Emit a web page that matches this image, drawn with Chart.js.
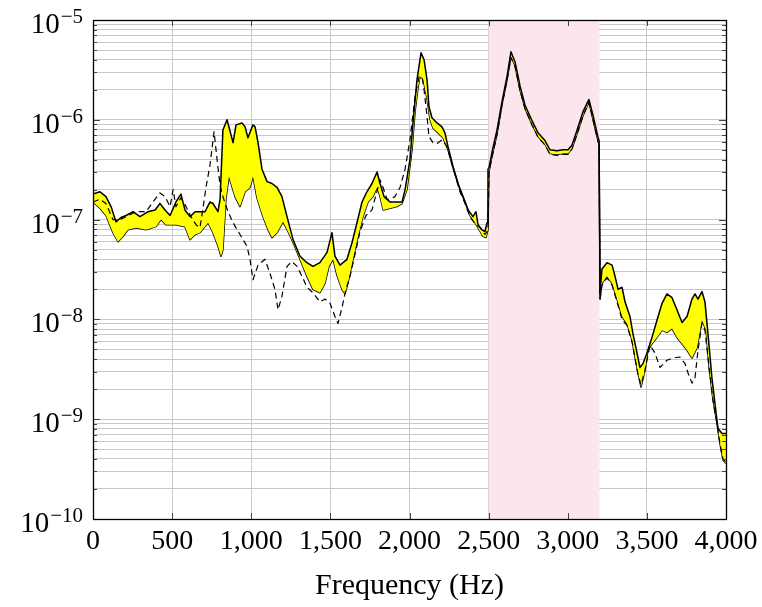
<!DOCTYPE html>
<html>
<head>
<meta charset="utf-8">
<script src="https://cdn.jsdelivr.net/npm/chart.js@4.4.0/dist/chart.umd.min.js"></script>
<style>
  html, body { margin: 0; padding: 0; background: #fff; }
  #wrap { width: 762px; height: 607px; }
</style>
</head>
<body>
<div id="wrap"><canvas id="chart" width="762" height="607"></canvas></div>
<script>
// upper edge of the yellow band
const upperFreq = [0, 44, 82, 114, 145, 177, 209, 253, 297, 348, 392, 423, 455, 487, 524, 556, 581, 613, 645, 676,
  708, 739, 758, 790, 803, 821, 847, 885, 904, 942, 961, 979, 1011, 1024, 1043, 1068, 1100, 1131, 1163, 1194,
  1226, 1264, 1308, 1352, 1390, 1434, 1479, 1510, 1529, 1561, 1605, 1637, 1668, 1700, 1731, 1763, 1795, 1814, 1839, 1877,
  1921, 1953, 1972, 2003, 2022, 2047, 2073, 2092, 2111, 2123, 2142, 2174, 2205, 2224, 2243, 2275, 2306, 2338, 2370, 2401,
  2420, 2433, 2458, 2477, 2490, 2496, 2502, 2521, 2553, 2584, 2616, 2641, 2667, 2698, 2730, 2774, 2812, 2856, 2888, 2932,
  2970, 3002, 3027, 3058, 3096, 3134, 3160, 3192, 3198, 3204, 3216, 3248, 3280, 3299, 3318, 3343, 3362, 3393, 3412, 3438,
  3456, 3475, 3501, 3532, 3564, 3596, 3627, 3659, 3690, 3722, 3754, 3785, 3804, 3823, 3848, 3867, 3886, 3911, 3930, 3949,
  3975, 4000];
const upperVal = [1.8e-7, 1.9e-7, 1.7e-7, 1.35e-7, 9.5e-8, 1.05e-7, 1.1e-7, 1.2e-7, 1.07e-7, 1.2e-7, 1.25e-7, 1.45e-7, 1.25e-7, 1.1e-7, 1.5e-7, 1.8e-7, 1.25e-7, 1.07e-7, 1.2e-7, 1.2e-7,
  1.2e-7, 1.5e-7, 1.45e-7, 1.2e-7, 1.6e-7, 7.9e-7, 1.0e-6, 5.9e-7, 8.9e-7, 9.3e-7, 8.5e-7, 6.6e-7, 8.9e-7, 8.5e-7, 5.9e-7, 3.2e-7, 2.4e-7, 2.3e-7, 2.1e-7, 1.7e-7,
  1.07e-7, 6.3e-8, 4.3e-8, 3.7e-8, 3.4e-8, 3.7e-8, 4.7e-8, 7.4e-8, 4.3e-8, 3.5e-8, 4.0e-8, 5.9e-8, 9.3e-8, 1.5e-7, 1.9e-7, 2.3e-7, 3.0e-7, 2.3e-7, 1.7e-7, 1.5e-7,
  1.5e-7, 1.5e-7, 2.0e-7, 4.0e-7, 9.3e-7, 2.5e-6, 4.7e-6, 4.0e-6, 2.5e-6, 1.35e-6, 1.05e-6, 9.3e-7, 8.5e-7, 7.4e-7, 5.4e-7, 3.4e-7, 2.3e-7, 1.7e-7, 1.25e-7, 1.07e-7,
  1.2e-7, 8.9e-8, 7.9e-8, 7.6e-8, 9.3e-8, 3.2e-7, 3.3e-7, 4.7e-7, 7.9e-7, 1.5e-6, 2.7e-6, 4.8e-6, 3.8e-6, 2.2e-6, 1.4e-6, 9.8e-7, 7.4e-7, 6.2e-7, 5.0e-7, 4.9e-7,
  5.0e-7, 5.0e-7, 5.6e-7, 7.8e-7, 1.2e-6, 1.6e-6, 1.1e-6, 6.6e-7, 6.2e-7, 1.85e-8, 3.2e-8, 3.7e-8, 3.5e-8, 2.7e-8, 2.0e-8, 2.1e-8, 1.5e-8, 1.07e-8, 7.2e-9, 4.6e-9,
  3.3e-9, 3.6e-9, 4.6e-9, 6.6e-9, 9.8e-9, 1.45e-8, 1.8e-8, 1.65e-8, 1.25e-8, 9.3e-9, 1.07e-8, 1.6e-8, 1.8e-8, 1.6e-8, 1.9e-8, 1.5e-8, 7.2e-9, 2.6e-9, 1.45e-9, 8.1e-10,
  7.2e-10, 7.2e-10];

// lower edge of the yellow band
const lowerFreq = [0, 44, 82, 126, 158, 190, 221, 272, 335, 398, 430, 461, 524, 581, 613, 645, 676, 727, 758, 790,
  809, 821, 840, 859, 897, 929, 961, 992, 1011, 1036, 1074, 1106, 1131, 1163, 1201, 1232, 1264, 1308, 1352, 1390,
  1434, 1466, 1491, 1517, 1542, 1573, 1592, 1611, 1643, 1675, 1706, 1738, 1769, 1795, 1814, 1833, 1877, 1921, 1953, 1984,
  2016, 2035, 2054, 2066, 2085, 2111, 2130, 2148, 2180, 2212, 2243, 2275, 2319, 2351, 2382, 2414, 2446, 2464, 2483, 2496,
  2502, 2521, 2553, 2584, 2616, 2641, 2667, 2698, 2730, 2774, 2812, 2856, 2888, 2932, 2970, 3002, 3027, 3058, 3096, 3134,
  3160, 3192, 3198, 3204, 3216, 3248, 3280, 3311, 3343, 3374, 3406, 3425, 3444, 3463, 3488, 3507, 3532, 3564, 3596, 3627,
  3659, 3690, 3722, 3754, 3785, 3817, 3848, 3874, 3893, 3918, 3943, 3962, 3981, 4000];
const lowerVal = [1.5e-7, 1.3e-7, 1.1e-7, 7.4e-8, 6.0e-8, 6.8e-8, 7.9e-8, 8.3e-8, 7.9e-8, 8.5e-8, 1.0e-7, 8.9e-8, 8.9e-8, 8.5e-8, 6.3e-8, 7.1e-8, 7.4e-8, 9.3e-8, 7.4e-8, 5.4e-8,
  4.3e-8, 5.0e-8, 1.6e-7, 2.7e-7, 1.7e-7, 1.35e-7, 1.9e-7, 2.1e-7, 2.7e-7, 1.65e-7, 1.07e-7, 7.9e-8, 6.6e-8, 7.4e-8, 9.5e-8, 7.6e-8, 5.9e-8, 4.0e-8, 2.7e-8, 2.0e-8,
  1.85e-8, 2.3e-8, 3.4e-8, 4.0e-8, 2.75e-8, 2.0e-8, 1.8e-8, 2.3e-8, 4.0e-8, 6.8e-8, 1.07e-7, 1.5e-7, 1.7e-7, 2.1e-7, 1.7e-7, 1.25e-7, 1.3e-7, 1.35e-7, 1.45e-7, 2.0e-7,
  5.0e-7, 1.2e-6, 2.1e-6, 2.7e-6, 2.6e-6, 1.6e-6, 1.0e-6, 8.3e-7, 7.4e-7, 6.6e-7, 5.0e-7, 3.3e-7, 2.0e-7, 1.5e-7, 1.1e-7, 9.3e-8, 7.6e-8, 6.8e-8, 6.6e-8, 7.9e-8,
  3.0e-7, 4.3e-7, 7.2e-7, 1.4e-6, 2.5e-6, 4.3e-6, 3.5e-6, 2.0e-6, 1.3e-6, 9.0e-7, 6.8e-7, 5.7e-7, 4.6e-7, 4.5e-7, 4.6e-7, 4.6e-7, 5.2e-7, 7.2e-7, 1.1e-6, 1.5e-6,
  1.0e-6, 6.1e-7, 5.7e-7, 1.6e-8, 2.3e-8, 2.7e-8, 2.3e-8, 1.6e-8, 1.07e-8, 9.1e-9, 6.2e-9, 4.2e-9, 2.9e-9, 2.1e-9, 3.1e-9, 4.9e-9, 5.7e-9, 6.6e-9, 7.8e-9, 7.4e-9,
  8.1e-9, 6.6e-9, 5.7e-9, 4.9e-9, 4.1e-9, 5.2e-9, 9.8e-9, 7.8e-9, 3.3e-9, 1.55e-9, 9.1e-10, 5.7e-10, 3.9e-10, 3.6e-10];

// dashed reference curve
const dashFreq = [0, 44, 82, 126, 171, 209, 272, 335, 379, 423, 455, 487, 506, 524, 556, 588, 619, 651, 676, 695,
  714, 739, 765, 784, 803, 821, 853, 885, 929, 973, 992, 1011, 1043, 1087, 1118, 1150, 1169, 1194, 1226, 1257,
  1289, 1321, 1352, 1390, 1434, 1466, 1498, 1529, 1548, 1573, 1598, 1624, 1656, 1687, 1725, 1763, 1814, 1833, 1858, 1877,
  1908, 1940, 1972, 2003, 2035, 2060, 2079, 2092, 2111, 2123, 2148, 2174, 2205, 2237, 2275, 2319, 2351, 2382, 2414, 2446,
  2477, 2496, 2502, 2521, 2553, 2584, 2616, 2641, 2667, 2698, 2730, 2774, 2812, 2856, 2888, 2932, 2970, 3002, 3027, 3058,
  3096, 3134, 3160, 3192, 3198, 3204, 3216, 3248, 3280, 3311, 3343, 3374, 3406, 3444, 3463, 3488, 3520, 3551, 3583, 3627,
  3665, 3709, 3741, 3760, 3785, 3804, 3823, 3848, 3867, 3893, 3918, 3943, 3962, 3981, 4000];
const dashVal = [1.5e-7, 1.6e-7, 1.45e-7, 1.0e-7, 1.0e-7, 1.07e-7, 1.2e-7, 1.2e-7, 1.5e-7, 1.85e-7, 1.7e-7, 1.35e-7, 2.0e-7, 1.35e-7, 1.65e-7, 1.35e-7, 1.07e-7, 8.9e-8, 8.3e-8, 1.3e-7,
  2.1e-7, 3.5e-7, 7.6e-7, 4.0e-7, 2.2e-7, 1.7e-7, 1.2e-7, 9.3e-8, 7.1e-8, 5.4e-8, 4.0e-8, 2.5e-8, 3.5e-8, 4.0e-8, 2.9e-8, 2.0e-8, 1.25e-8, 1.7e-8, 3.4e-8, 3.8e-8,
  3.4e-8, 2.7e-8, 2.1e-8, 1.85e-8, 1.5e-8, 1.6e-8, 1.45e-8, 1.07e-8, 9.1e-9, 1.3e-8, 2.0e-8, 2.7e-8, 4.5e-8, 7.6e-8, 1.1e-7, 1.25e-7, 2.5e-7, 2.1e-7, 1.6e-7, 1.6e-7,
  1.7e-7, 2.1e-7, 3.2e-7, 6.3e-7, 1.7e-6, 2.7e-6, 2.7e-6, 2.0e-6, 1.07e-6, 6.8e-7, 5.9e-7, 5.8e-7, 6.3e-7, 5.4e-7, 3.3e-7, 1.9e-7, 1.45e-7, 1.07e-7, 9.1e-8, 8.3e-8,
  7.1e-8, 7.8e-8, 3.0e-7, 4.2e-7, 7.1e-7, 1.4e-6, 2.5e-6, 4.2e-6, 3.4e-6, 2.0e-6, 1.3e-6, 8.9e-7, 6.7e-7, 5.6e-7, 4.5e-7, 4.4e-7, 4.5e-7, 4.5e-7, 5.1e-7, 7.1e-7,
  1.1e-6, 1.5e-6, 1.0e-6, 6.0e-7, 5.6e-7, 1.6e-8, 2.2e-8, 2.6e-8, 2.2e-8, 1.5e-8, 1.0e-8, 8.7e-9, 6.0e-9, 2.8e-9, 2.2e-9, 3.1e-9, 5.5e-9, 4.6e-9, 3.3e-9, 3.9e-9,
  4.1e-9, 4.2e-9, 3.6e-9, 2.9e-9, 2.3e-9, 2.6e-9, 4.9e-9, 9.1e-9, 7.8e-9, 3.3e-9, 1.55e-9, 9.1e-10, 5.7e-10, 4.0e-10, 3.7e-10];

const xTicks = [0, 500, 1000, 1500, 2000, 2500, 3000, 3500, 4000];
const xTickLabels = ['0', '500', '1,000', '1,500', '2,000', '2,500', '3,000', '3,500', '4,000'];
const yDecades = [1e-10, 1e-9, 1e-8, 1e-7, 1e-6, 1e-5];
const yExponents = ['\u221210', '\u22129', '\u22128', '\u22127', '\u22126', '\u22125'];
const bandStart = 2500;
const bandEnd = 3200;
const xTitle = 'Frequency (Hz)';

const FONT = "'Liberation Serif', 'Times New Roman', serif";
const GRID = '#c8c8c8';

function pts(xs, ys) {
  return xs.map((x, i) => ({ x: x, y: ys[i] }));
}

// all grid positions of the log axis: 1..9 x 10^n
const yGridTicks = [];
yDecades.forEach((d, i) => {
  yGridTicks.push(d);
  if (i < yDecades.length - 1) {
    for (let k = 2; k <= 9; k++) yGridTicks.push(k * d);
  }
});

const decor = {
  id: 'decor',
  beforeDatasetsDraw(chart) {
    const { ctx, chartArea: a, scales: { x } } = chart;
    const x0 = x.getPixelForValue(bandStart);
    const x1 = x.getPixelForValue(bandEnd);
    ctx.save();
    ctx.fillStyle = '#fde5ee';
    ctx.fillRect(x0, a.top, x1 - x0, a.bottom - a.top);
    ctx.restore();
  },
  afterDraw(chart) {
    const { ctx, chartArea: a, scales: { x, y } } = chart;
    ctx.save();
    // inward tick marks
    ctx.strokeStyle = '#444';
    ctx.lineWidth = 1;
    ctx.beginPath();
    xTicks.forEach(v => {
      const px = Math.round(x.getPixelForValue(v)) + 0.5;
      ctx.moveTo(px, a.bottom); ctx.lineTo(px, a.bottom - 6);
      ctx.moveTo(px, a.top); ctx.lineTo(px, a.top + 6);
    });
    yGridTicks.forEach(v => {
      const py = Math.round(y.getPixelForValue(v)) + 0.5;
      const len = yDecades.includes(v) ? 7 : 4;
      ctx.moveTo(a.left, py); ctx.lineTo(a.left + len, py);
      ctx.moveTo(a.right, py); ctx.lineTo(a.right - len, py);
    });
    ctx.stroke();

    // frame
    ctx.strokeStyle = '#000';
    ctx.lineWidth = 1.3;
    ctx.strokeRect(Math.round(a.left) + 0.5, Math.round(a.top) + 0.5,
      Math.round(a.right - a.left), Math.round(a.bottom - a.top));

    // x tick labels
    ctx.fillStyle = '#000';
    ctx.font = '28px ' + FONT;
    ctx.textAlign = 'center';
    ctx.textBaseline = 'alphabetic';
    xTicks.forEach((v, i) => {
      ctx.fillText(xTickLabels[i], x.getPixelForValue(v), a.bottom + 30);
    });

    // y tick labels 10^n
    yDecades.forEach((v, i) => {
      const py = y.getPixelForValue(v);
      ctx.font = '21px ' + FONT;
      const ew = ctx.measureText(yExponents[i]).width;
      ctx.textAlign = 'right';
      ctx.fillText(yExponents[i], a.left - 10, py + 3);
      ctx.font = '29px ' + FONT;
      ctx.fillText('10', a.left - 11 - ew, py + 13);
    });

    // x axis title
    ctx.font = '30px ' + FONT;
    ctx.textAlign = 'center';
    ctx.fillText(xTitle, (a.left + a.right) / 2, 594);
    ctx.restore();
  }
};

new Chart(document.getElementById('chart'), {
  type: 'line',
  data: {
    datasets: [
      {
        label: 'reference',
        data: pts(dashFreq, dashVal),
        borderColor: '#000',
        borderWidth: 1.2,
        borderDash: [6, 4],
        pointRadius: 0,
        fill: false
      },
      {
        label: 'upper',
        data: pts(upperFreq, upperVal),
        borderColor: '#000',
        borderWidth: 1.5,
        backgroundColor: '#ffff00',
        pointRadius: 0,
        fill: '+1'
      },
      {
        label: 'lower',
        data: pts(lowerFreq, lowerVal),
        borderColor: '#000',
        borderWidth: 1.5,
        pointRadius: 0,
        fill: false
      }
    ]
  },
  options: {
    responsive: false,
    animation: false,
    devicePixelRatio: 1,
    layout: { padding: { left: 93, right: 36, top: 20, bottom: 88 } },
    plugins: {
      legend: { display: false },
      tooltip: { enabled: false }
    },
    elements: { line: { tension: 0, borderJoinStyle: 'round' } },
    scales: {
      x: {
        type: 'linear',
        min: 0,
        max: 4000,
        ticks: { display: false, stepSize: 500 },
        grid: { color: GRID, lineWidth: 1, drawTicks: false },
        border: { display: false },
        afterFit: s => { s.height = 0; }
      },
      y: {
        type: 'logarithmic',
        min: 1e-10,
        max: 1e-5,
        ticks: { display: false },
        grid: { color: GRID, lineWidth: 1, drawTicks: false },
        border: { display: false },
        afterBuildTicks: s => { s.ticks = yGridTicks.map(v => ({ value: v })); },
        afterFit: s => { s.width = 0; }
      }
    }
  },
  plugins: [decor]
});
</script>
</body>
</html>
